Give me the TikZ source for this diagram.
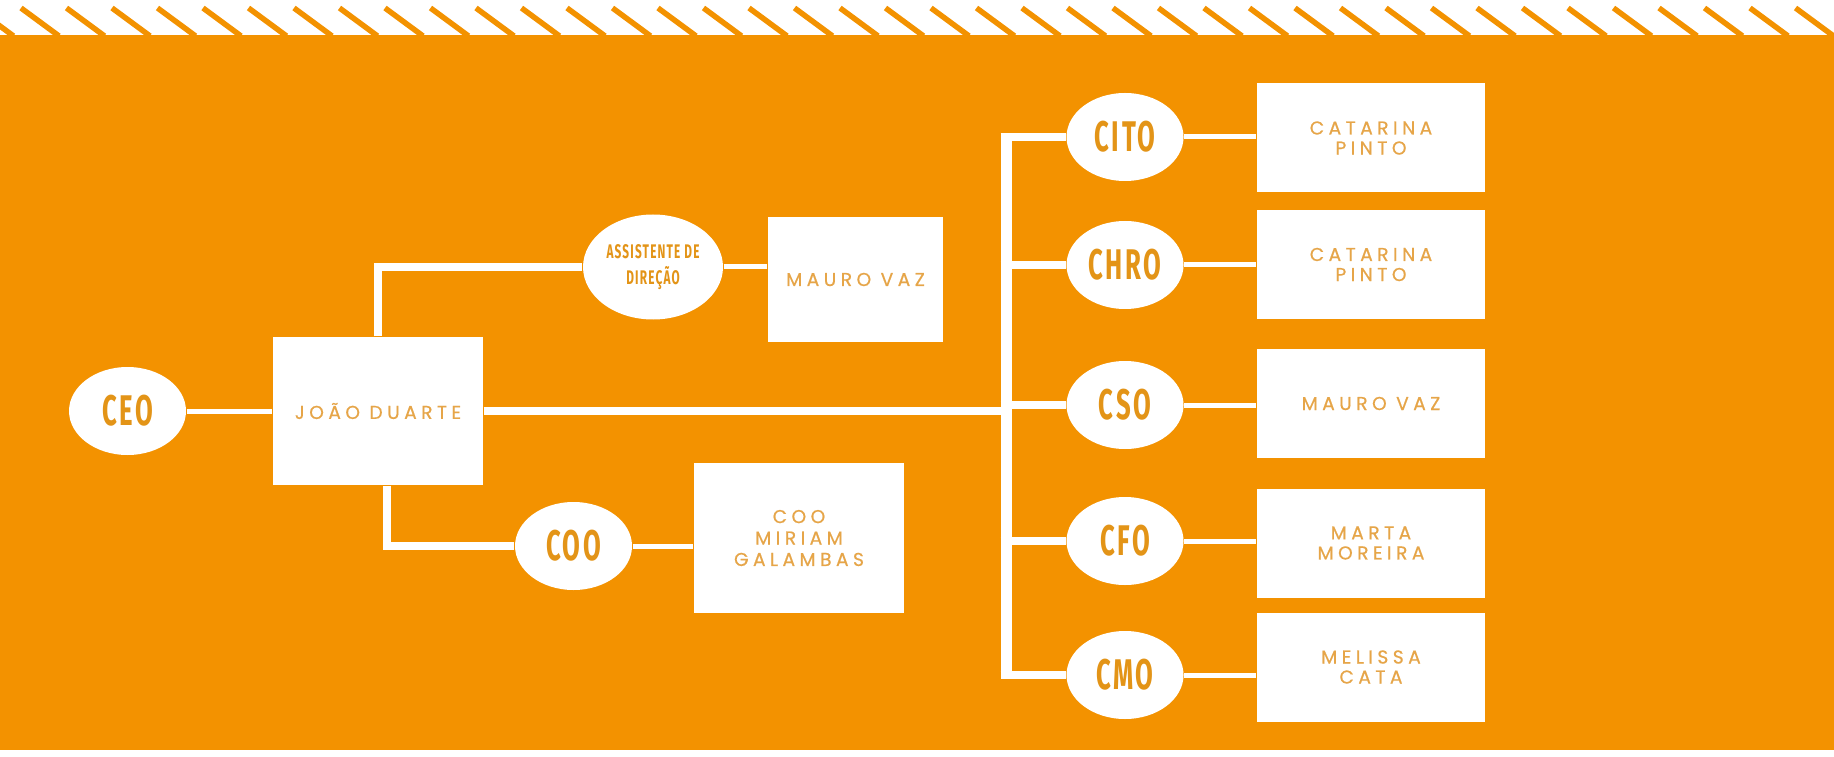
\documentclass[tikz,border=0pt]{standalone}
\usepackage{fontspec}
\newfontfamily\rolefont{Fira Sans}[FakeStretch=0.6,LetterSpace=6]
\newfontfamily\namefont{Poppins}[LetterSpace=24,FakeBold=0.6]
\usetikzlibrary{shapes}
\definecolor{bgorange}{HTML}{F39200}
\definecolor{roletext}{HTML}{E39417}
\definecolor{nametext}{HTML}{E6A548}
\tikzset{
  role/.style={ellipse, fill=white, inner sep=0pt, minimum width=1.17cm,
    minimum height=0.88cm, text=roletext, align=center,
    font=\rolefont\bfseries\fontsize{12.2}{13}\selectfont},
  person/.style={rectangle, fill=white, inner sep=0pt, text=nametext,
    align=center, font=\namefont\fontsize{5.3}{5.7}\selectfont},
  trunk/.style={draw=white, line width=0.08cm},
  twig/.style={draw=white, line width=0.05cm},
  busline/.style={draw=white, line width=0.11cm}
}

\begin{document}
\begin{tikzpicture}
  \useasboundingbox (0,0) rectangle (18.34,7.56);
  \fill[white] (0,0) rectangle (18.34,7.56);
  % orange board with the hatched top edge
  \fill[bgorange] (0,0.06) rectangle (18.34,7.21);
  \foreach \k in {-1,...,39}
    \draw[bgorange, line width=0.055cm] (0.21+0.455*\k,7.48) -- ++(0.38,-0.28);

  % left part
  \node[role] (ceo) at (1.275,3.45) {CEO};
  \node[person, minimum width=2.10cm, minimum height=1.48cm] (joao) at (3.78,3.45) {JOÃO DUARTE};
  \node[role, minimum width=1.40cm, minimum height=1.05cm,
        font=\rolefont\bfseries\fontsize{5.6}{7.4}\selectfont] (asst) at (6.53,4.89) {ASSISTENTE DE\\DIREÇÃO};
  \node[person, minimum width=1.75cm, minimum height=1.25cm] (asstname) at (8.555,4.765) {MAURO VAZ};
  \node[role] (coo) at (5.735,2.10) {COO};
  \node[person, minimum width=2.10cm, minimum height=1.50cm, font=\namefont\fontsize{5.3}{6.1}\selectfont] (cooname) at (7.99,2.18) {COO\\MIRIAM\\GALAMBAS};

  \draw[twig] (ceo) -- (joao);
  \draw[trunk] (joao.north) |- (asst.west);
  \draw[trunk] ([xshift=0.09cm]joao.south) |- (coo.west);
  \draw[twig] (asst.east) -- (asst.east -| asstname.west);
  \draw[twig] (coo.east) -- (coo.east -| cooname.west);

  % right part
  \coordinate (bus) at (10.06,3.47);
  \foreach \tag/\y/\yy/\who in {CITO/6.19/6.18/{CATARINA\\PINTO},
      CHRO/4.91/4.915/{CATARINA\\PINTO}, CSO/3.51/3.525/{MAURO VAZ},
      CFO/2.15/2.13/{MARTA\\MOREIRA}, CMO/0.81/0.89/{MELISSA\\CATA}}{
    \node[role] (\tag) at (11.25,\y) {\tag};
    \node[person, minimum width=2.28cm, minimum height=1.09cm] (\tag name) at (13.71,\yy) {\who};
    \draw[twig] (\tag.east) -- (\tag.east -| \tag name.west);
    \draw[trunk] ([xshift=-0.055cm]bus |- \tag) -- (\tag.west);
  }
  \draw[busline] (bus |- CITO) -- (bus |- CMO);
  \draw[trunk] (joao.east) -- (joao.east -| bus);
\end{tikzpicture}
\end{document}
